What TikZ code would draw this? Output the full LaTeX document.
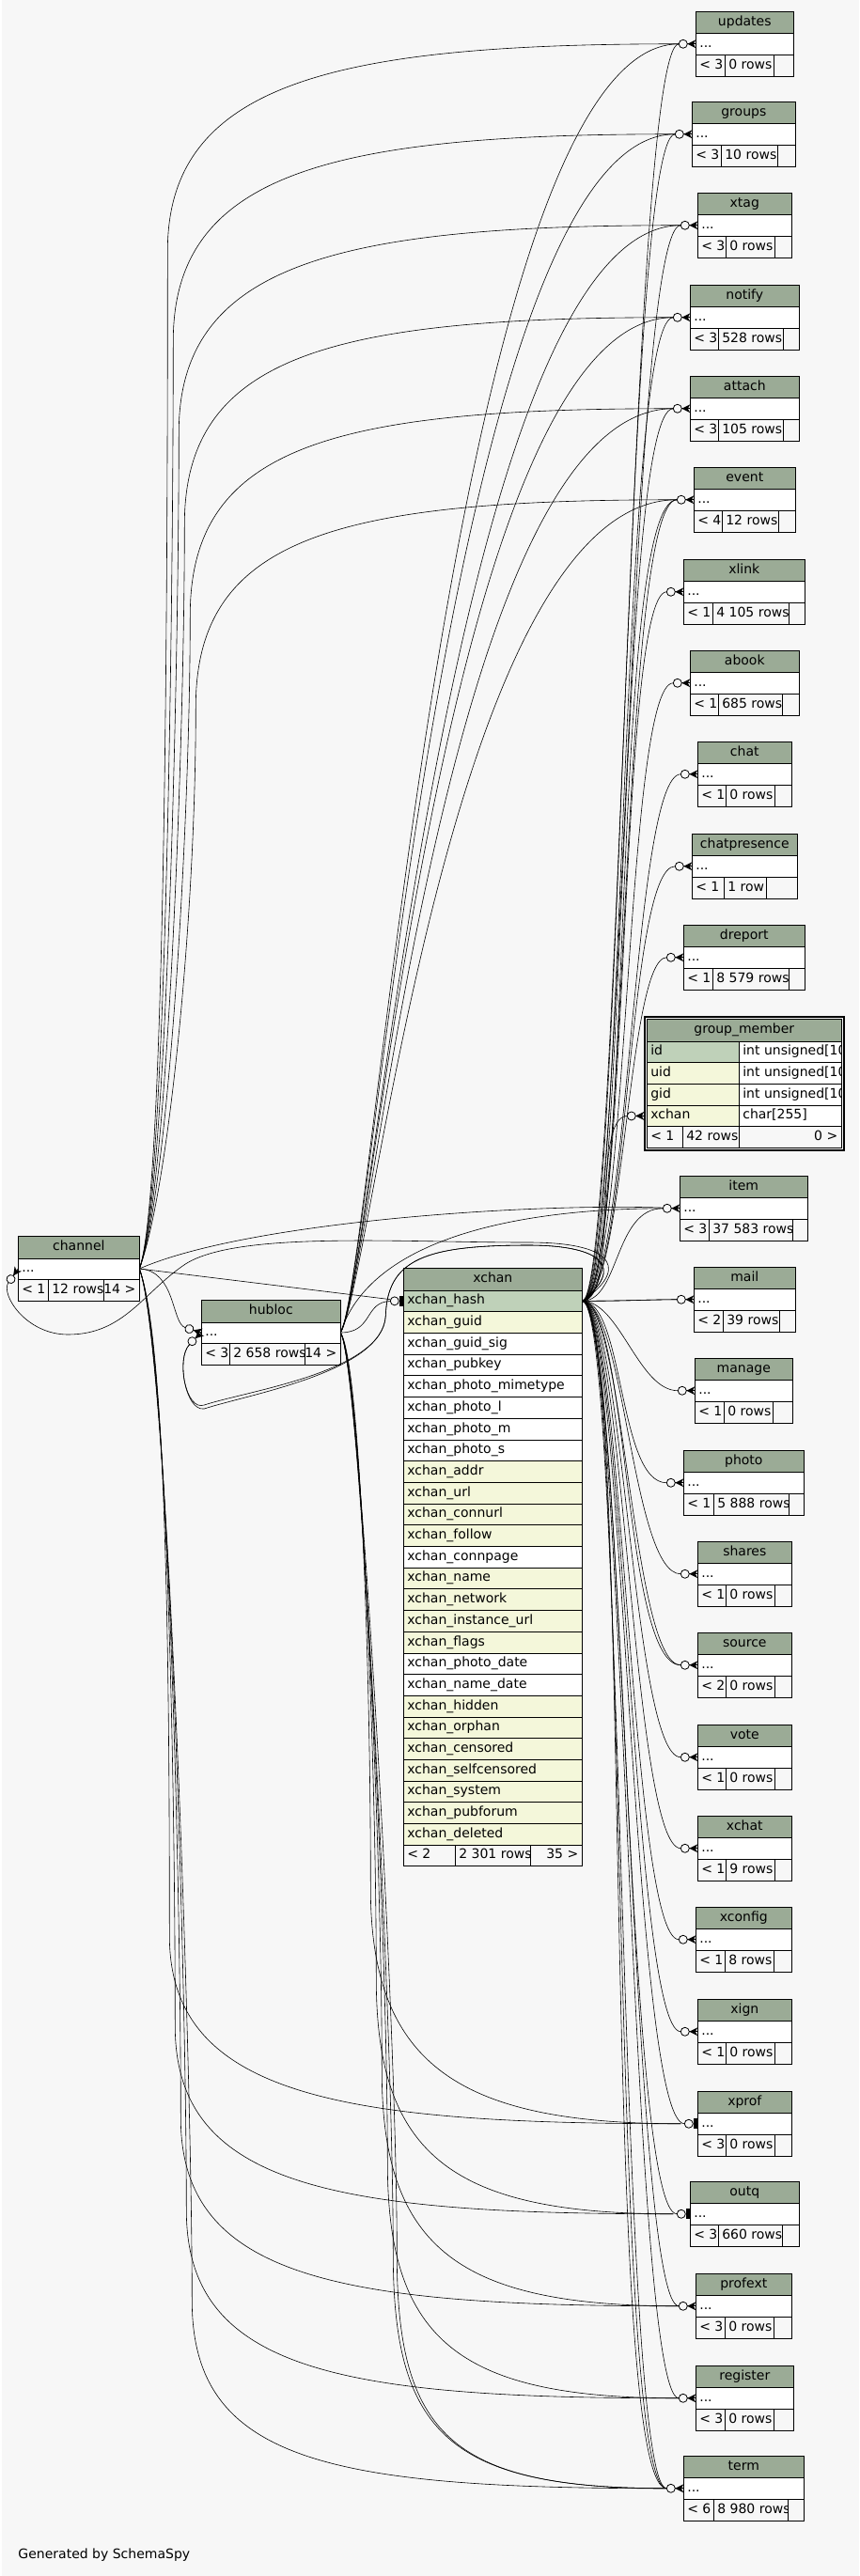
\documentclass[tikz,border=0pt]{standalone}
\usepackage{fontspec}
\setmainfont{DejaVu Sans}
\usetikzlibrary{calc}
\definecolor{schemabg}{RGB}{247,247,247}
\definecolor{schemahead}{RGB}{155,171,150}
\definecolor{schemapk}{RGB}{191,209,185}
\definecolor{schemaidx}{RGB}{244,247,218}
\newcommand{\tblfont}{\fontsize{14}{16}\selectfont}

\tikzset{
  tblcell/.style={draw, line width=0.8pt, inner sep=0pt, outer sep=0pt, anchor=north west,
    font=\tblfont, text height=10.5pt, text depth=3.5pt},
  tblhead/.style={tblcell, fill=schemahead, minimum height=23.5pt},
  tblrow/.style={tblcell, fill=white, minimum height=22.5pt},
  tblfoot/.style={tblcell, fill=schemabg, minimum height=23pt},
  celltext/.style={draw=none, fill=none, minimum width=0pt, minimum height=0pt, inner sep=0pt,
    font=\tblfont},
  lcell/.style={path picture={\node[celltext, anchor=base west]
    at ([xshift=4pt,yshift=-3.5pt]path picture bounding box.west) {#1};}},
  rcell/.style={path picture={\node[celltext, anchor=base east]
    at ([xshift=-4pt,yshift=-3.5pt]path picture bounding box.east) {#1};}},
  fk/.style={draw, line width=0.6pt, shorten >=18pt},
  fkone/.style={draw, line width=0.6pt, shorten >=14pt},
  crowodot/.pic={
    \draw[line width=0.8pt, fill=schemabg] (-13.5,0) circle (4.5pt);
    \fill (-9,0) -- (0,-4.5) -- (-2.5,0) -- (0,4.5) -- cycle;
    \draw[line width=0.8pt] (-9,0) -- (0,0);
  },
  teeodot/.pic={
    \draw[line width=0.8pt, fill=schemabg] (-9.5,0) circle (4.5pt);
    \fill (-4,-5.5) rectangle (0,5.5);
  },
}

% name, x, y, width, first cell, second cell, parents, rows
\newcommand{\smalltable}[8]{%
  \pgfmathsetmacro{\kidw}{#4-#5-#6}
  \node[tblhead, minimum width=#4pt] (#1-head) at (#2,#3) {#1};
  \node[tblrow, minimum width=#4pt, lcell={...}] (#1) at (#1-head.south west) {};
  \node[tblfoot, minimum width=#5pt, lcell={#7}] (#1-par) at (#1.south west) {};
  \node[tblfoot, minimum width=#6pt, lcell={#8}] (#1-cnt) at (#1-par.north east) {};
  \node[tblfoot, minimum width=\kidw pt] (#1-kid) at (#1-cnt.north east) {};
}

\begin{document}
\begin{tikzpicture}[x=1pt,y=-1pt]
\fill[schemabg] (0,0) rectangle (912,2741);

% tables on the right
\foreach \n/\x/\y/\w/\ca/\cb/\p/\r in {
  updates/738/12/104/31/52/< 3/0 rows,
  groups/734/108/110/31/60/< 3/10 rows,
  xtag/740/205/100/30/52/< 3/0 rows,
  notify/732/303/116/30/69/< 3/528 rows,
  attach/732/400/116/30/69/< 3/105 rows,
  event/736/497/108/30/60/< 4/12 rows,
  xlink/725/595/129/31/81/< 1/4 105 rows,
  abook/732/692/116/30/68/< 1/685 rows,
  chat/740/789/100/30/52/< 1/0 rows,
  chatpresence/734/887/112/34/45/< 1/1 row,
  dreport/725/984/129/31/81/< 1/8 579 rows,
  item/721/1251/136/31/89/< 3/37 583 rows,
  mail/736/1348/108/31/60/< 2/39 rows,
  manage/737/1445/104/31/52/< 1/0 rows,
  photo/725/1543/128/32/80/< 1/5 888 rows,
  shares/740/1640/100/30/52/< 1/0 rows,
  source/740/1737/100/30/52/< 2/0 rows,
  vote/740/1835/100/30/52/< 1/0 rows,
  xchat/740/1932/100/30/52/< 1/9 rows,
  xconfig/738/2029/102/31/52/< 1/8 rows,
  xign/740/2127/100/30/52/< 1/0 rows,
  xprof/740/2225/100/30/52/< 3/0 rows,
  outq/732/2321/116/30/68/< 3/660 rows,
  profext/738/2419/102/31/52/< 3/0 rows,
  register/738/2517/104/31/52/< 3/0 rows,
  term/725/2613/128/32/79/< 6/8 980 rows}
  {\smalltable{\n}{\x}{\y}{\w}{\ca}{\cb}{\p}{\r}}

% group_member
\draw[line width=2pt] (683.5,1082) rectangle (895.5,1223.5);
\node[tblhead, minimum width=207pt, minimum height=24pt] (gm-head) at (686,1084) {group\_member};
\foreach \c/\d/\f [count=\i from 0] in {id/int unsigned[10]/schemapk, uid/int unsigned[10]/schemaidx,
    gid/int unsigned[10]/schemaidx, xchan/char[255]/schemaidx}{
  \node[tblrow, fill=\f, minimum width=98pt, minimum height=22.7pt, lcell=\c] (gm-\c) at (686,{1108+22.7*\i}) {};
  \node[tblrow, minimum width=109pt, minimum height=22.7pt, lcell=\d] (gm-\c-type) at (gm-\c.north east) {};
}
\node[tblfoot, minimum width=38pt, lcell={< 1}] (gm-par) at (gm-xchan.south west) {};
\node[tblfoot, minimum width=60pt, lcell={42 rows}] (gm-cnt) at (gm-par.north east) {};
\node[tblfoot, minimum width=109pt, rcell={0 >}] (gm-kid) at (gm-cnt.north east) {};

% xchan
\node[tblhead, minimum width=190pt, minimum height=24pt] (xchan-head) at (427,1349) {xchan};
\node[tblrow, fill=schemapk, minimum width=190pt, minimum height=22.7pt, lcell={xchan\_hash}] (xchan) at (427,1373) {};
\foreach \c/\f [count=\i from 1] in {guid/schemaidx, guid\_sig/white, pubkey/white,
    photo\_mimetype/white, photo\_l/white, photo\_m/white, photo\_s/white, addr/schemaidx,
    url/schemaidx, connurl/schemaidx, follow/schemaidx, connpage/white, name/schemaidx,
    network/schemaidx, instance\_url/schemaidx, flags/schemaidx, photo\_date/white,
    name\_date/white, hidden/schemaidx, orphan/schemaidx, censored/schemaidx,
    selfcensored/schemaidx, system/schemaidx, pubforum/schemaidx, deleted/schemaidx}
  \node[tblrow, fill=\f, minimum width=190pt, minimum height=22.7pt, lcell={xchan\_\c}] (xchan-\i) at (427,{1373+22.7*\i}) {};
\node[tblfoot, minimum width=55pt, minimum height=22.5pt, lcell={< 2}] (xchan-par) at (xchan-25.south west) {};
\node[tblfoot, minimum width=80pt, minimum height=22.5pt, lcell={2 301 rows}] (xchan-cnt) at (xchan-par.north east) {};
\node[tblfoot, minimum width=55pt, minimum height=22.5pt, rcell={35 >}] (xchan-kid) at (xchan-cnt.north east) {};

% channel
\node[tblhead, minimum width=129pt, minimum height=24pt] (channel-head) at (17,1315) {channel};
\node[tblrow, minimum width=129pt, minimum height=22pt, lcell={...}] (channel) at (channel-head.south west) {};
\node[tblfoot, minimum width=32pt, lcell={< 1}] (channel-par) at (channel.south west) {};
\node[tblfoot, minimum width=59pt, lcell={12 rows}] (channel-cnt) at (channel-par.north east) {};
\node[tblfoot, minimum width=38pt, rcell={14 >}] (channel-kid) at (channel-cnt.north east) {};

% hubloc
\node[tblhead, minimum width=148pt, minimum height=24pt] (hubloc-head) at (212,1383) {hubloc};
\node[tblrow, minimum width=148pt, minimum height=22pt, lcell={...}] (hubloc) at (hubloc-head.south west) {};
\node[tblfoot, minimum width=30pt, lcell={< 3}] (hubloc-par) at (hubloc.south west) {};
\node[tblfoot, minimum width=80pt, lcell={2 658 rows}] (hubloc-cnt) at (hubloc-par.north east) {};
\node[tblfoot, minimum width=38pt, rcell={14 >}] (hubloc-kid) at (hubloc-cnt.north east) {};

% channel to the tables above
\foreach \tn/\rx in {updates/176,groups/182,xtag/188,notify/194,attach/200,event/206}
  \draw[fk] (channel.east) .. controls +(30,-80) and ($(\rx,0 |- \tn.west)+(0,450)$)
    .. ($(\rx,0 |- \tn.west)+(0,220)$) .. controls ($(\rx,0 |- \tn.west)+(0,40)$)
    and ($(\tn.west)+(-380,0)$) .. (\tn.west);
% channel to the tables below
\foreach \tn/\rx in {xprof/178,outq/184,profext/190,register/196,term/202}
  \draw[fk] (channel.east) .. controls +(30,80) and ($(\rx,0 |- \tn.west)+(0,-450)$)
    .. ($(\rx,0 |- \tn.west)+(0,-200)$) .. controls ($(\rx,0 |- \tn.west)+(0,-30)$)
    and ($(\tn.west)+(-380,0)$) .. (\tn.west);
\draw[fk] (channel.east) .. controls (260,1300) and (560,1280) .. (item.west);

% hubloc
\foreach \tn in {updates,groups,xtag,notify,attach,event}
  \draw[fk] (hubloc.east) .. controls +(35,-60) and ($(\tn.west)+(-260,0)$) .. (\tn.west);
\draw[fk] (hubloc.east) .. controls (395,1310) and (571,1286) .. (item.west);
\foreach \tn/\rx in {xprof/392,outq/398,profext/404,register/410,term/416,term/420}
  \draw[fk] (hubloc.east) .. controls +(20,30) and ($(\rx,0 |- \tn.west)+(0,-500)$)
    .. ($(\rx,0 |- \tn.west)+(0,-250)$) .. controls ($(\rx,0 |- \tn.west)+(0,-60)$)
    and ($(\tn.west)+(-250,0)$) .. (\tn.west);

% xchan
\foreach \tn/\ha/\hb in {updates/40/70, groups/42/72, xtag/44/74, notify/46/76, attach/48/78,
    event/50/80, event/55/90, xlink/50/70, abook/50/70, chat/50/70, chatpresence/50/70,
    dreport/45/60, item/40/70, mail/40/40, mail/45/45, manage/40/60, photo/45/70,
    shares/45/70, source/45/70, source/50/80, vote/45/70, xchat/45/70, xconfig/45/70,
    xign/45/70, profext/45/70, register/45/70, term/45/70, term/50/80, term/55/90}
  \draw[fk] (xchan.east) .. controls +(\ha,0) and +(-\hb,0) .. (\tn.west);
\foreach \tn in {xprof,outq}
  \draw[fkone] (xchan.east) .. controls +(45,0) and +(-70,0) .. (\tn.west);
\draw[fk, shorten >=21pt] (xchan.east) .. controls +(40,0) and +(-60,0) .. (gm-xchan.west);

% channel, hubloc and xchan among themselves
\draw[fkone] (channel.east) -- (xchan.west);
\draw[fkone] (hubloc.east) .. controls (395,1418) and (385,1385) .. (xchan.west);
\draw[fk] (channel.east) .. controls (185,1352) and (180,1408) .. (hubloc.west);
\draw[fk] (xchan.east) .. controls +(45,-30) and (660,1322) .. (560,1322)
  .. controls (420,1322) and (250,1310) .. (195,1345) .. controls (150,1375) and (130,1420) .. (70,1420)
  .. controls (25,1420) and (-2,1377) .. (channel.west);
\foreach \dy in {0,4}
  \draw[fk] (xchan.east) .. controls +(45,-35) and (640,1325) .. (560,1325)
    .. controls (450,1325) and (410,1340) .. (408,1400) .. controls (405,1460) and (260,{1480+\dy})
    .. (215,{1495+\dy}) .. controls (195,1502) and (185,1445) .. (hubloc.west);

% ends
\foreach \tn in {updates,groups,xtag,notify,attach,event,xlink,abook,chat,chatpresence,dreport,
    item,mail,manage,photo,shares,source,vote,xchat,xconfig,xign,profext,register,term}
  \pic at (\tn.west) {crowodot};
\pic at (xprof.west) {teeodot};
\pic at (outq.west) {teeodot};
\pic at (xchan.west) {teeodot};
\pic at ([xshift=-3pt]gm-xchan.west) {crowodot};
\pic[rotate=55] at (channel.west) {crowodot};
\pic[rotate=-17] at (hubloc.west) {crowodot};
\pic[rotate=43] at (hubloc.west) {crowodot};

\node[anchor=west, inner sep=0pt, font=\tblfont] (credit) at (17,2719) {Generated by SchemaSpy};
\end{tikzpicture}
\end{document}
